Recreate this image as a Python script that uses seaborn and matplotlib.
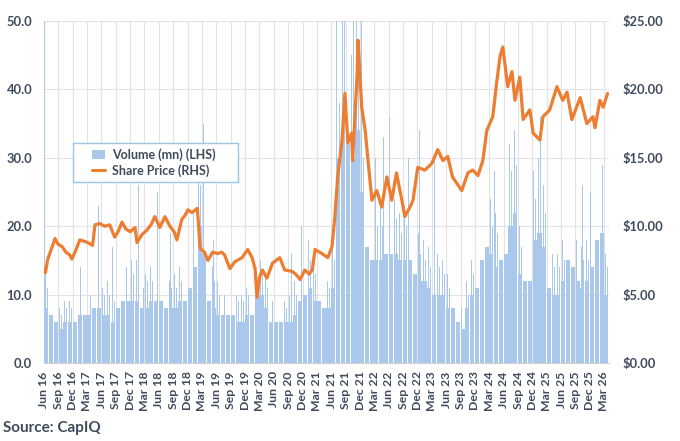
import numpy as np
import pandas as pd
import matplotlib
matplotlib.use("Agg")
import matplotlib.pyplot as plt
import matplotlib.dates as mdates
from matplotlib.patches import Patch, Rectangle
from matplotlib.lines import Line2D
import seaborn as sns

# ---------------- data ----------------
months = pd.date_range("2016-06-01", "2026-03-01", freq="MS")

# typical (dense) monthly volume level, mn
vol_base = [8, 7, 6, 5, 6, 6, 6,
            7, 7, 7, 8, 8, 7, 7, 6, 8, 9, 9, 9,
            9, 8, 8, 9, 9, 9, 8, 8, 8, 9, 9, 11,
            14, 20, 16, 9, 8, 7, 7, 7, 7, 6, 6, 7,
            7, 10, 10, 8, 6, 6, 6, 6, 6, 7, 9, 10,
            11, 9, 9, 8, 8, 11, 30, 34, 32, 30, 34, 25,
            17, 15, 15, 15, 16, 16, 16, 15, 15, 15, 13, 12,
            12, 11, 10, 10, 10, 8, 8, 6, 5, 8, 10, 11,
            15, 17, 16, 14, 15, 16, 20, 22, 13, 12, 12, 18,
            19, 17, 11, 10, 10, 12, 15, 14, 12, 11, 12, 14,
            18, 19, 10]

# highest regular day of each month, mn
vol_peak = [13, 12, 9, 8, 9, 9, 10,
            12, 11, 12, 13, 13, 11, 12, 10, 13, 15, 14, 15,
            15, 13, 13, 14, 15, 14, 13, 12, 13, 14, 15, 17,
            22, 30, 24, 15, 14, 12, 11, 12, 11, 10, 10, 11,
            11, 15, 15, 13, 10, 10, 10, 9, 10, 12, 14, 16,
            18, 15, 14, 13, 12, 18, 45, 50, 48, 45, 50, 38,
            26, 22, 22, 23, 25, 24, 24, 22, 23, 22, 20, 19,
            18, 17, 16, 16, 15, 13, 12, 10, 8, 12, 15, 17,
            22, 26, 24, 22, 24, 25, 32, 34, 20, 18, 19, 28,
            30, 26, 17, 16, 16, 18, 24, 22, 18, 17, 18, 22,
            28, 30, 16]

# second highest regular day of each month, mn
vol_peak2 = [11, 10, 8, 7, 8, 8, 9,
             10, 10, 10, 11, 11, 10, 10, 9, 11, 13, 12, 13,
             13, 11, 12, 12, 13, 12, 11, 11, 11, 12, 13, 15,
             19, 26, 20, 13, 12, 10, 10, 10, 9, 9, 9, 10,
             10, 13, 13, 11, 9, 9, 9, 8, 9, 10, 12, 14,
             15, 13, 12, 11, 11, 15, 38, 42, 40, 38, 42, 30,
             22, 20, 20, 20, 22, 21, 21, 19, 20, 19, 17, 16,
             15, 14, 14, 14, 13, 11, 10, 9, 7, 10, 13, 15,
             19, 22, 20, 19, 20, 21, 28, 29, 17, 15, 16, 24,
             25, 22, 15, 14, 14, 15, 20, 19, 15, 15, 15, 19,
             24, 26, 14]

# isolated high-volume days
spike_dates = ["2016-06-03", "2016-06-08", "2016-06-20", "2016-07-10", "2016-10-25",
               "2017-01-20", "2017-05-09", "2017-05-12", "2017-08-10", "2017-10-10",
               "2018-01-13", "2018-01-22", "2018-03-05", "2018-05-25", "2018-08-15",
               "2018-11-20", "2019-01-23", "2019-01-29", "2019-02-18", "2019-03-13",
               "2019-05-15", "2019-08-27", "2019-10-10", "2020-02-16", "2020-06-10",
               "2020-09-20", "2020-11-25", "2020-12-22", "2021-01-18", "2021-02-18",
               "2021-04-15", "2021-06-01", "2021-06-24", "2021-07-05", "2021-07-15",
               "2021-07-28", "2021-08-12", "2021-08-25", "2021-09-10", "2021-09-28",
               "2021-10-20", "2021-11-08", "2021-11-25", "2021-12-10", "2022-02-14",
               "2022-03-10", "2022-04-28", "2022-05-21", "2022-06-08", "2022-07-10",
               "2022-08-05", "2022-09-25", "2022-10-05", "2022-11-28", "2022-12-15",
               "2023-01-25", "2023-02-18", "2023-03-20", "2023-04-22", "2023-06-01",
               "2023-07-28", "2023-11-01", "2024-01-10", "2024-02-16", "2024-03-05",
               "2024-04-05", "2024-06-10", "2024-07-10", "2024-08-05", "2024-08-25",
               "2024-09-12", "2024-09-26", "2024-12-12", "2025-01-22", "2025-02-18",
               "2025-03-03", "2025-05-24", "2025-06-20", "2025-07-15", "2025-08-04",
               "2025-10-15", "2025-12-05", "2026-01-03", "2026-02-10", "2026-02-20"]
spike_vols = [55, 20.5, 20, 13, 18,
              14, 23, 23, 17, 26.5,
              26.5, 26, 20, 25, 19,
              22, 47, 47, 55, 35,
              18, 23, 15, 27, 14,
              16, 20, 41, 23, 55,
              18, 23.5, 41, 55, 55,
              55, 55, 55, 55, 55,
              55, 55, 55, 55, 52,
              30, 33, 43, 36, 55,
              32, 49, 30, 55, 34,
              28, 38.5, 30, 41, 25,
              44, 47, 30, 36.5, 34,
              28, 35, 38, 36, 49,
              55, 55, 33, 36, 32,
              46, 50, 25, 55, 30,
              26, 25, 55, 31, 29]

price_dates = ["2016-06-01", "2016-06-10", "2016-06-25", "2016-07-20", "2016-08-10",
               "2016-08-28", "2016-09-25", "2016-10-18", "2016-11-12", "2016-11-25",
               "2016-12-15", "2017-01-15", "2017-02-12", "2017-03-06", "2017-04-06",
               "2017-04-21", "2017-05-21", "2017-06-21", "2017-07-24", "2017-08-24",
               "2017-09-15", "2017-10-10", "2017-11-03", "2017-12-01", "2018-01-01",
               "2018-01-13", "2018-02-15", "2018-03-16", "2018-04-12", "2018-05-07",
               "2018-06-07", "2018-07-10", "2018-08-10", "2018-09-06", "2018-09-24",
               "2018-10-25", "2018-11-15", "2018-12-03", "2018-12-28", "2019-02-01",
               "2019-02-06", "2019-02-18", "2019-03-18", "2019-04-09", "2019-05-09",
               "2019-06-09", "2019-07-06", "2019-07-24", "2019-08-27", "2019-09-27",
               "2019-11-12", "2019-12-18", "2020-01-15", "2020-02-03", "2020-02-15",
               "2020-03-03", "2020-03-21", "2020-04-18", "2020-05-24", "2020-07-09",
               "2020-08-09", "2020-09-24", "2020-10-18", "2020-11-15", "2020-12-15",
               "2021-01-12", "2021-02-01", "2021-02-18", "2021-04-03", "2021-05-10",
               "2021-06-06", "2021-06-24", "2021-07-12", "2021-08-09", "2021-08-27",
               "2021-09-15", "2021-10-09", "2021-10-15", "2021-11-12", "2021-11-18",
               "2021-12-12", "2022-01-03", "2022-01-21", "2022-02-15", "2022-03-18",
               "2022-04-18", "2022-05-21", "2022-06-21", "2022-07-21", "2022-08-24",
               "2022-09-12", "2022-10-15", "2022-11-03", "2022-12-03", "2023-01-18",
               "2023-03-03", "2023-04-09", "2023-05-12", "2023-06-12", "2023-07-12",
               "2023-09-09", "2023-10-18", "2023-11-18", "2023-12-21", "2024-01-21",
               "2024-02-15", "2024-03-24", "2024-04-18", "2024-05-09", "2024-05-27",
               "2024-06-27", "2024-07-24", "2024-08-12", "2024-09-12", "2024-10-03",
               "2024-11-15", "2024-12-06", "2025-01-18", "2025-02-06", "2025-03-21",
               "2025-05-06", "2025-06-12", "2025-07-09", "2025-08-09", "2025-10-01",
               "2025-11-12", "2025-12-21", "2026-01-03", "2026-02-03", "2026-02-24",
               "2026-03-24"]
price_values = [6.9, 6.6, 7.6, 8.4, 9.1,
                8.7, 8.5, 8.1, 7.9, 7.6,
                8.1, 9.0, 8.9, 8.8, 8.6,
                10.1, 10.2, 10.0, 10.1, 9.2,
                9.6, 10.3, 9.8, 9.6, 9.9,
                8.8, 9.4, 9.7, 10.1, 10.7,
                9.9, 10.7, 10.0, 9.6, 9.0,
                10.5, 10.8, 11.2, 11.0, 11.3,
                10.5, 8.4, 8.1, 7.5, 8.1,
                8.0, 8.1, 7.9, 6.9, 7.4,
                7.7, 8.3, 7.7, 6.9, 4.8,
                6.3, 6.8, 6.2, 7.3, 7.7,
                6.8, 6.7, 6.5, 6.1, 6.8,
                6.5, 6.8, 8.3, 8.0, 7.7,
                8.5, 10.7, 13.6, 16.3, 19.7,
                16.1, 16.8, 14.8, 20.9, 23.6,
                18.7, 17.0, 14.8, 11.9, 12.6,
                11.4, 13.6, 11.9, 13.9, 11.9,
                10.7, 11.4, 11.9, 14.3, 14.1,
                14.6, 15.6, 14.8, 15.1, 13.6,
                12.6, 13.9, 14.1, 13.7, 14.8,
                17.0, 18.0, 20.5, 22.4, 23.1,
                20.2, 21.3, 19.2, 20.9, 17.8,
                18.5, 16.8, 16.3, 18.0, 18.5,
                20.2, 19.2, 19.8, 17.8, 19.4,
                17.5, 18.0, 17.2, 19.2, 18.7,
                19.7]

# ---------------- styling ----------------
sns.set_style("white")
plt.rcParams["font.family"] = ["Lato", "DejaVu Sans"]

VOL_C = "#A9C8EC"
PRICE_C = "#ED7D31"
TXT_C = "#3F4B5C"
GRID_C = "#E3E3E3"

fig = plt.figure(figsize=(6.8, 4.41), dpi=100)
ax = fig.add_axes([44 / 680, 78 / 441, 565 / 680, 342 / 441])
ax2 = ax.twinx()

mnum = mdates.date2num(months.to_pydatetime())
ax.bar(mnum + 14, vol_base, width=26, color=VOL_C, linewidth=0, zorder=2)
ax.bar(mnum + 8, vol_peak, width=3.5, color=VOL_C, linewidth=0, zorder=2)
ax.bar(mnum + 21, vol_peak2, width=3.5, color=VOL_C, linewidth=0, zorder=2)
snum = mdates.date2num(pd.to_datetime(spike_dates).to_pydatetime())
ax.bar(snum, spike_vols, width=3.0, color=VOL_C, linewidth=0, zorder=2)

pdf = pd.DataFrame({"date": pd.to_datetime(price_dates), "price": price_values})
sns.lineplot(data=pdf, x="date", y="price", ax=ax2, color=PRICE_C,
             linewidth=2.3, zorder=5)

# axes limits
x0 = mdates.date2num(pd.Timestamp("2016-06-01"))
x1 = mdates.date2num(pd.Timestamp("2026-04-02"))
ax.set_xlim(x0, x1)
ax2.set_xlim(x0, x1)
ax.set_ylim(0, 50)
ax2.set_ylim(0, 25)

# ticks
ticks = pd.date_range("2016-06-01", "2026-03-01", freq="3MS")
ax.set_xticks(mdates.date2num(ticks.to_pydatetime()))
ax.set_xticklabels([t.strftime("%b %y") for t in ticks], rotation=90,
                   fontsize=8.8, color=TXT_C, fontweight="bold")
ax.set_yticks(np.arange(0, 51, 10))
ax.set_yticklabels([f"{v:.1f}" for v in np.arange(0, 51, 10)],
                   fontsize=9.3, color=TXT_C, fontweight="bold")
ax2.set_yticks(np.arange(0, 26, 5))
ax2.set_yticklabels([f"${v:.2f}" for v in np.arange(0, 26, 5)],
                    fontsize=9.3, color=TXT_C, fontweight="bold")

ax.tick_params(axis="x", length=3, width=0.8, color="#D0D0D0", pad=3)
ax.tick_params(axis="y", length=0, pad=8.5)
ax2.tick_params(axis="y", length=0, pad=10)

ax.grid(True, color=GRID_C, linewidth=0.8, zorder=0)
ax.set_axisbelow(True)
for a in (ax, ax2):
    for s in ("top", "left", "right"):
        a.spines[s].set_visible(False)
    a.spines["bottom"].set_color("#D0D0D0")
ax2.spines["bottom"].set_visible(False)
ax.set_xlabel("")
ax.set_ylabel("")
ax2.set_xlabel("")
ax2.set_ylabel("")

# legend: frame drawn as a separate box so the padding matches the reference
box = Rectangle(((73 - 44) / 565, (363 - 182) / 342), 165 / 565, 39 / 342,
                transform=ax2.transAxes, facecolor="white",
                edgecolor="#9DC3E6", linewidth=1.0, zorder=9)
ax2.add_patch(box)
handles = [Patch(facecolor=VOL_C, edgecolor="none"),
           Line2D([0], [0], color=PRICE_C, linewidth=2.2)]
leg = ax2.legend(handles, ["Volume (mn) (LHS)", "Share Price (RHS)"],
                 loc="center left",
                 bbox_to_anchor=((92 - 44) / 565, (363 - 162.5) / 342),
                 borderaxespad=0, frameon=False, borderpad=0,
                 handlelength=1.05, handleheight=0.75,
                 handletextpad=0.55, labelspacing=0.3,
                 prop={"weight": "bold", "size": 9})
for t in leg.get_texts():
    t.set_color(TXT_C)
leg.set_zorder(10)

fig.text(3 / 680, 1 - 432 / 441, "Source: CapIQ", fontsize=11,
         fontweight="bold", color=TXT_C, va="baseline", ha="left")

fig.savefig("out.png", dpi=100)
